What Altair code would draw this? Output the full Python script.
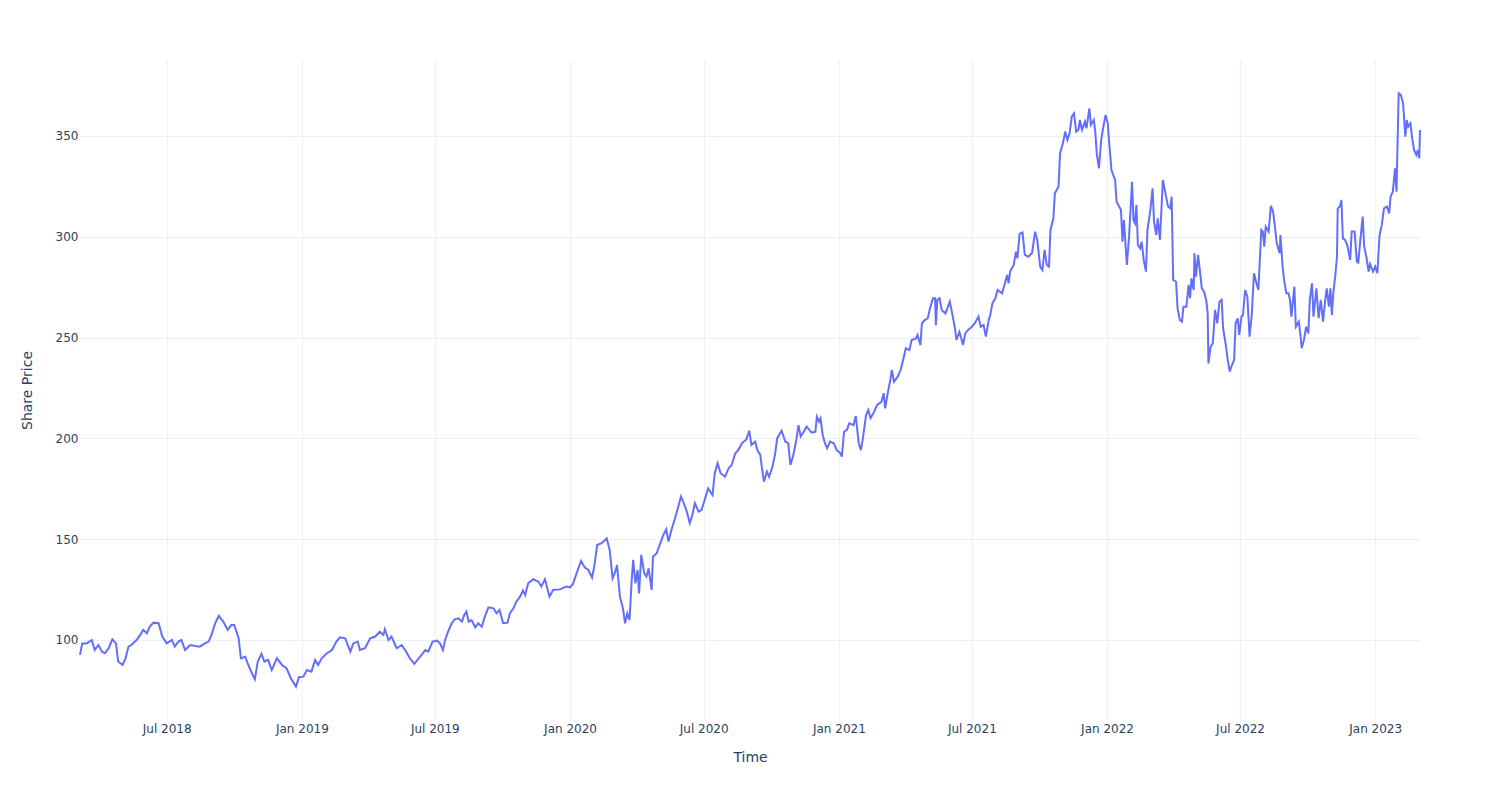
import altair as alt
import pandas as pd

# Start date of the series; positions in time are given as day offsets from it
START = "2018-03-05"

DAYS_1 = [0, 3, 9, 16, 20, 25, 30, 34, 39, 44, 49, 52, 58, 62, 66, 70, 77, 82, 86, 91,
          95, 100, 107, 112, 118, 125, 129, 134, 138, 143, 150, 157, 163, 170, 175, 179, 184, 189, 195, 201,
          206, 210, 216, 219, 225, 229, 234, 238, 242, 247, 251, 256, 261, 268, 275, 281, 287, 294, 298, 304]
PRICE_1 = [92.6, 98.3, 98.3, 100, 95, 97.5, 94.2, 93.4, 95.9, 100.3, 98.3, 89.3, 87.6, 90.9, 96.7, 97.5, 100, 102.5, 105, 103.3,
           106.6, 108.6, 108.3, 101.7, 98.3, 100, 96.7, 99.2, 100, 95, 97.5, 97, 96.7, 98.3, 99.2, 102.5, 108.3, 111.9, 109.1, 105,
           107.4, 107.4, 100.8, 90.9, 91.7, 87.6, 83.5, 80.5, 89.3, 93.1, 89.3, 90.1, 85.1, 90.9, 87.6, 86, 81, 76.9, 81.5, 81.8]

DAYS_2 = [309, 315, 320, 324, 329, 336, 343, 349, 354, 361, 368, 372, 378, 381, 388, 395, 402, 408, 413, 415,
          420, 424, 431, 438, 444, 449, 455, 461, 465, 470, 474, 480, 486, 490, 494, 497, 501, 506, 510, 515,
          520, 523, 526, 529, 533, 538, 542, 547, 551, 556, 563, 567, 571, 576, 582, 585, 590, 594, 599, 603]
PRICE_2 = [85.1, 84.3, 90.1, 87.6, 90.9, 93.4, 95, 99.2, 101.3, 100.8, 94.2, 98.3, 99.2, 95, 95.9, 100.8, 101.7, 104.1, 102.5, 105.3,
           100, 101.7, 95.9, 97.5, 94.2, 90.9, 88.1, 90.9, 92.6, 95, 94.2, 99.2, 99.7, 98.3, 95, 100, 104.1, 108.3, 110.2, 110.7,
           109.1, 112.4, 114.1, 109.1, 109.9, 106.3, 108.3, 106.6, 111.6, 116.2, 115.7, 113.2, 114.9, 108.3, 108.6, 113.2, 115.7, 119, 121.5, 124.5]

DAYS_3 = [606, 610, 617, 624, 628, 633, 639, 644, 653, 662, 667, 671, 676, 682, 687, 692, 697, 700, 704, 710,
          717, 721, 725, 728, 731, 733, 735, 739, 742, 745, 748, 751, 753, 756, 759, 761, 764, 768, 771, 774,
          778, 780, 785, 790, 794, 798, 801, 805, 810, 815, 818, 821, 826, 830, 833, 837, 842, 846, 851, 855]
PRICE_3 = [122.3, 128.1, 130.1, 128.9, 126.5, 130.1, 121.5, 124.8, 125.1, 126.5, 126.1, 127.8, 133.1, 139.2, 136, 134.7, 130.9, 136.4, 147.1, 148,
           150.4, 144.6, 130.6, 133.1, 137.2, 128.9, 121.5, 115.7, 108.3, 113.2, 109.9, 129.8, 139.7, 128.1, 134.7, 123.1, 142.2, 133.1, 131.4, 135.5,
           124.8, 141.3, 143, 148, 152.1, 154.9, 148.8, 154.6, 160.4, 167, 171.1, 168.6, 163.7, 157.9, 161.2, 167.8, 163.7, 164.5, 170.3, 175.2]

DAYS_4 = [861, 864, 868, 872, 878, 883, 887, 892, 896, 901, 907, 911, 914, 919, 922, 926, 928, 931, 935, 938,
          942, 946, 949, 955, 960, 964, 967, 971, 975, 978, 981, 985, 989, 996, 1001, 1003, 1006, 1008, 1011, 1014,
          1017, 1021, 1026, 1030, 1035, 1037, 1040, 1044, 1047, 1053, 1056, 1060, 1063, 1066, 1070, 1073, 1076, 1080, 1085, 1091]
PRICE_4 = [171.9, 182.7, 187.6, 182.7, 181, 185.2, 186.8, 192.6, 194.2, 197.6, 199.5, 203.8, 196.7, 198.4, 194.2, 191.8, 186, 178.5, 183.5, 181,
           185.2, 191.8, 200, 203.8, 198.4, 197.6, 186.8, 191.8, 199.2, 206.6, 200.9, 203.3, 205.8, 202.8, 203.3, 210.8, 208.3, 210, 201.7, 197.6,
           195.1, 198.4, 197.6, 194.2, 192.6, 190.9, 203.3, 204.2, 207.5, 206.6, 211.1, 197.6, 194.2, 200.9, 211.6, 214.1, 210, 212.5, 216.6, 218.2]

DAYS_5 = [1094, 1096, 1099, 1103, 1105, 1108, 1113, 1117, 1121, 1124, 1129, 1132, 1138, 1140, 1144, 1146, 1150, 1154, 1157, 1161,
          1164, 1165, 1167, 1170, 1173, 1178, 1184, 1188, 1191, 1193, 1197, 1202, 1205, 1209, 1214, 1218, 1223, 1226, 1230, 1233,
          1237, 1239, 1242, 1246, 1249, 1255, 1259]
PRICE_5 = [222.4, 214.9, 221.5, 229, 233.9, 228.1, 230.6, 233.9, 239.7, 244.7, 243.8, 248.8, 249.6, 251.3, 246.3, 257.1, 258.7, 259.6, 264.5, 269.5,
           269.5, 256.2, 268.7, 269.5, 263.7, 262, 267.8, 260.4, 254.6, 248.8, 252.9, 246.3, 252.1, 253.8, 255.4, 257.1, 260.4, 255.4, 256.2, 250.5,
           258.7, 261.2, 267, 269.5, 273.6, 272, 276.9]

DAYS_6 = [1262, 1264, 1266, 1271, 1274, 1276, 1279, 1283, 1286, 1291, 1296, 1300, 1303, 1307, 1310, 1313, 1316, 1319, 1321, 1325,
          1327, 1332, 1334, 1338, 1341, 1344, 1347, 1350, 1353, 1356, 1359, 1361, 1364, 1368, 1370, 1374, 1376, 1380, 1382, 1384,
          1387, 1390, 1393, 1396, 1399, 1401, 1404]
PRICE_6 = [281.1, 276.9, 282.7, 286, 292.6, 289.3, 301.5, 302.1, 291, 290.1, 292.1, 302.5, 298.4, 285.2, 283.5, 293.5, 286, 285.2, 303.4, 309.2,
           321.6, 324.9, 341.4, 346.4, 352.2, 348, 351.4, 359.6, 361.2, 352.2, 353, 357.9, 353, 357.1, 353.8, 363.7, 355.5, 357.9, 352.2, 341.4,
           334, 348, 354.6, 360.4, 356.3, 346.4, 333.1]

DAYS_7 = [1409, 1411, 1417, 1419, 1421, 1425, 1428, 1432, 1434, 1436, 1438, 1440, 1443, 1445, 1448, 1451, 1453, 1457, 1460, 1462,
          1465, 1467, 1470, 1474, 1477, 1481, 1484, 1486, 1488, 1492, 1494, 1497, 1500, 1502, 1506, 1509, 1511, 1513, 1516, 1517,
          1519, 1522, 1525, 1527, 1530, 1533, 1535, 1536, 1539, 1542, 1545, 1548, 1551, 1554, 1556, 1560, 1562, 1565, 1568, 1571,
          1573, 1576, 1578, 1581, 1583, 1586, 1589, 1592, 1595, 1598, 1602, 1604]
PRICE_7 = [328.2, 317.4, 313.3, 297.6, 308.3, 286, 300.1, 327.3, 308.3, 306.7, 315.8, 295.9, 294.3, 297.6, 288.5, 282.7, 303.4, 313.3, 324, 307.5,
           300.9, 309.2, 298.4, 328.2, 322.4, 315, 314.1, 319.9, 278.6, 277.7, 264.5, 258.7, 257.9, 265.3, 265.3, 276.1, 269.5, 279.4, 273.6, 291.8,
           280.2, 291, 281.1, 274.4, 272.8, 268.7, 262, 237.2, 245.5, 247.2, 263.7, 257.1, 267.8, 268.7, 254.6, 245.5, 239.7, 233.1, 236.4, 238.9,
           257.1, 259.6, 251.3, 260.4, 261.2, 273.6, 270.3, 250.5, 261.2, 281.9, 276.1, 273.6]

DAYS_8 = [1608, 1610, 1612, 1614, 1618, 1621, 1624, 1627, 1629, 1633, 1634, 1637, 1639, 1642, 1645, 1647, 1649, 1653, 1655, 1659,
          1661, 1663, 1666, 1669, 1672, 1674, 1677, 1679, 1683, 1686, 1689, 1692, 1695, 1697, 1700, 1702, 1704, 1706, 1709, 1711,
          1712, 1715, 1717, 1719, 1722, 1725, 1729, 1731, 1735, 1738, 1740, 1743, 1746, 1748, 1751, 1754, 1756, 1760, 1763, 1766,
          1767, 1769, 1772, 1775, 1779, 1782, 1784, 1787, 1790, 1792, 1795, 1798, 1801, 1804, 1806, 1808, 1811, 1813, 1816, 1819,
          1821, 1823, 1824]
PRICE_8 = [303.4, 302.6, 295.1, 305, 302.6, 315.3, 312.5, 303.4, 296.8, 291.8, 300.9, 285.2, 278.6, 272, 272, 268.7, 260.4, 275.3, 255.4, 257.9,
           252.1, 244.7, 248.8, 255.4, 252.1, 268.7, 276.9, 260.4, 274.4, 259.6, 268.7, 257.9, 268.7, 274.4, 265.3, 274.4, 261.2, 272, 281.9, 290.1,
           314.1, 315, 318.3, 299.2, 298.4, 295.9, 288.5, 302.6, 302.6, 287.7, 287.2, 299.2, 310, 295.1, 290.1, 282.7, 286.5, 282.7, 285.2, 281.9,
           288.5, 300.9, 305.9, 314.1, 315, 311.6, 319.9, 322.4, 334, 322.4, 371.2, 370.3, 366.2, 349.7, 357.9, 354.6, 356.3, 349.7, 343, 340.6,
           343, 338.9, 353]

Y_TICKS = [100, 150, 200, 250, 300, 350]
Y_RANGE = [60.3, 387.7]
X_TICKS = [(2018, 7), (2019, 1), (2019, 7), (2020, 1), (2020, 7), (2021, 1), (2021, 7), (2022, 1), (2022, 7), (2023, 1)]

day_groups = [DAYS_1, DAYS_2, DAYS_3, DAYS_4, DAYS_5, DAYS_6, DAYS_7, DAYS_8]
price_groups = [PRICE_1, PRICE_2, PRICE_3, PRICE_4, PRICE_5, PRICE_6, PRICE_7, PRICE_8]
for d, p in zip(day_groups, price_groups):
    assert len(d) == len(p), (len(d), len(p), d[0])

days = [v for g in day_groups for v in g]
prices = [v for g in price_groups for v in g]
dates = pd.Timestamp(START) + pd.to_timedelta(days, unit="D")
df = pd.DataFrame({"Time": dates, "Share Price": prices})

FONT = "DejaVu Sans"
TXT = "#2a3f5f"
GRID = "#EBF0F8"

x_values = [alt.DateTime(year=y, month=m, date=1) for y, m in X_TICKS]

chart = alt.Chart(df).mark_line(color="#636efa", strokeWidth=2).encode(
    x=alt.X(
        "Time:T",
        title="Time",
        scale=alt.Scale(nice=False),
        axis=alt.Axis(
            values=x_values, format="%b %Y", grid=True, gridColor=GRID, gridWidth=1,
            ticks=False, domain=False, labelPadding=3, labelFlush=False,
            labelFont=FONT, labelFontSize=12, labelColor=TXT,
            titleFont=FONT, titleFontSize=14, titleColor=TXT, titleFontWeight="normal",
            titlePadding=16,
        ),
    ),
    y=alt.Y(
        "Share Price:Q",
        title="Share Price",
        scale=alt.Scale(domain=Y_RANGE, nice=False, zero=False),
        axis=alt.Axis(
            values=Y_TICKS, grid=True, gridColor=GRID, gridWidth=1,
            ticks=False, domain=False, labelPadding=2,
            labelFont=FONT, labelFontSize=12, labelColor=TXT,
            titleFont=FONT, titleFontSize=14, titleColor=TXT, titleFontWeight="normal",
            titlePadding=21,
        ),
    ),
).properties(
    width=1340,
    height=660,
    autosize=alt.AutoSizeParams(type="none"),
    padding={"left": 80, "top": 60, "right": 80, "bottom": 80},
    background="white",
).configure_view(stroke=None)

chart.save("out.html", embed_options={"renderer": "svg", "actions": False})
